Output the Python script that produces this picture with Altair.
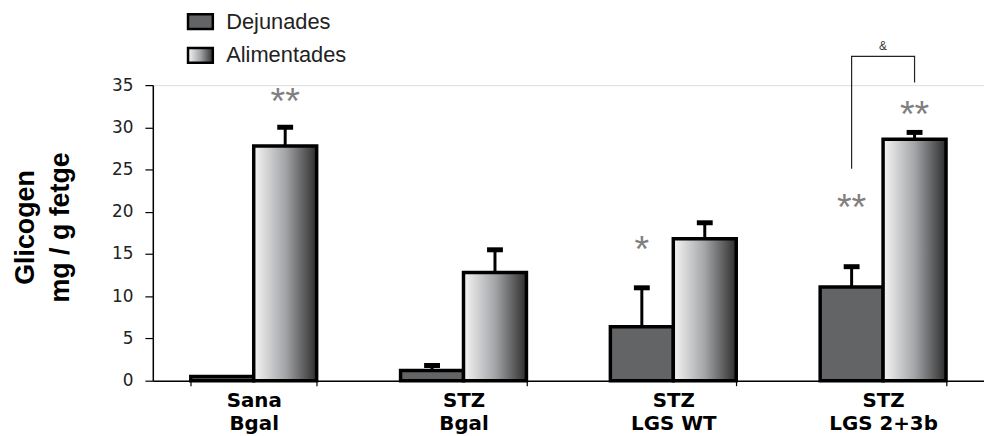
import altair as alt
import pandas as pd

# ---- data ----
cat_line1 = ["Sana", "STZ", "STZ", "STZ"]
cat_line2 = ["Bgal", "Bgal", "LGS WT", "LGS 2+3b"]
series = ["Dejunades", "Alimentades"]
fasted = [0.5, 1.2, 6.4, 11.1]
fasted_err = [0.0, 0.6, 4.6, 2.4]
fed = [27.8, 12.8, 16.8, 28.6]
fed_err = [2.2, 2.7, 1.9, 0.8]
y_ticks = [0, 5, 10, 15, 20, 25, 30, 35]

sig_cat = [0, 2, 3, 3]
sig_series = ["Alimentades", "Dejunades", "Dejunades", "Alimentades"]
sig_y = [33.7, 16.2, 21.1, 32.1]
sig_text = ["**", "*", "**", "**"]

bracket_cat = 3
bracket_series = ["Dejunades", "Dejunades", "Alimentades", "Alimentades"]
bracket_y = [25.1, 38.4, 38.4, 35.3]
bracket_label = "&"
bracket_label_y = 39.6

cats = [a + "\n" + b for a, b in zip(cat_line1, cat_line2)]

rows = []
for i, c in enumerate(cats):
    rows.append({"cat": c, "series": series[0], "value": fasted[i], "err": fasted_err[i]})
    rows.append({"cat": c, "series": series[1], "value": fed[i], "err": fed_err[i]})
bars_df = pd.DataFrame(rows)
bars_df["upper"] = bars_df["value"] + bars_df["err"]
err_df = bars_df[bars_df["err"] > 0]

sig_df = pd.DataFrame({
    "cat": [cats[i] for i in sig_cat],
    "series": sig_series,
    "y": sig_y,
    "label": sig_text,
})

br_df = pd.DataFrame({
    "cat": [cats[bracket_cat]] * len(bracket_y),
    "series": bracket_series,
    "y": bracket_y,
    "idx": list(range(len(bracket_y))),
})
br_lab_df = pd.DataFrame({"cat": [cats[bracket_cat]], "y": [bracket_label_y], "label": [bracket_label]})

FONT = "Liberation Sans"
WIDE = "DejaVu Sans"

x_enc = alt.X(
    "cat:N",
    sort=cats,
    scale=alt.Scale(domain=cats, paddingInner=0.4, paddingOuter=0.181),
    axis=alt.Axis(
        title=None,
        labelExpr="split(datum.label, '\\n')",
        labelAngle=0,
        labelFont=WIDE,
        labelFontSize=20,
        labelFontWeight="bold",
        labelColor="black",
        labelLineHeight=23,
        labelPadding=5,
        tickBand="extent",
        tickSize=5,
        tickColor="black",
        tickWidth=1.2,
        domainColor="black",
        domainWidth=1.5,
        grid=False,
    ),
)
xo_enc = alt.XOffset("series:N", sort=series,
                     scale=alt.Scale(domain=series, paddingInner=0, paddingOuter=0))
y_scale = alt.Scale(domain=[0, 35], nice=False, zero=True)
y_axis = alt.Axis(
    values=y_ticks,
    grid=False,
    domainColor="black",
    domainWidth=1.5,
    tickColor="black",
    tickSize=8,
    tickWidth=1.2,
    labelFont=WIDE,
    labelFontSize=17,
    labelColor="#222",
    labelPadding=12,
    title=["Glicogen", "mg / g fetge"],
    titleFont=FONT,
    titleFontSize=27,
    titleFontWeight="bold",
    titleColor="black",
    titleAngle=270,
    titleAlign="center",
    titleBaseline="bottom",
    titleX=-114,
    titleY=143,
    titleLineHeight=35,
)

gradient_expr = ("{gradient: 'linear', x1: 0, y1: 0, x2: 1, y2: 0, "
                 "stops: [{offset: 0, color: '#f6f6f6'}, {offset: 0.5, color: '#a4a5a8'}, "
                 "{offset: 1, color: '#2e2e2e'}]}")
color_scale = alt.Scale(domain=series, range=[{"expr": "'#636466'"}, {"expr": gradient_expr}])

bars = alt.Chart(bars_df).mark_bar(stroke="black", strokeWidth=3.5).encode(
    x=x_enc,
    xOffset=xo_enc,
    y=alt.Y("value:Q", scale=y_scale, axis=y_axis),
    color=alt.Color(
        "series:N",
        scale=color_scale,
        legend=alt.Legend(
            orient="none",
            legendX=34,
            legendY=-78,
            title=None,
            symbolType="M-1,-0.6H1V0.6H-1Z",
            symbolSize=625,
            symbolStrokeColor="black",
            symbolStrokeWidth=2.5,
            symbolOpacity=1,
            labelFont=FONT,
            labelFontSize=22,
            labelColor="#222",
            labelOffset=12,
            rowPadding=7,
            padding=0,
        ),
    ),
)

err_rule = alt.Chart(err_df).mark_rule(color="black", strokeWidth=3).encode(
    x=alt.X("cat:N", sort=cats),
    xOffset=alt.XOffset("series:N", sort=series),
    y="value:Q",
    y2="upper:Q",
)
err_cap = alt.Chart(err_df).mark_tick(color="black", thickness=5, size=16, opacity=1).encode(
    x=alt.X("cat:N", sort=cats),
    xOffset=alt.XOffset("series:N", sort=series),
    y="upper:Q",
)

sig = alt.Chart(sig_df).mark_text(font=FONT, fontSize=38, color="#808080",
                                  baseline="alphabetic", dy=18).encode(
    x=alt.X("cat:N", sort=cats),
    xOffset=alt.XOffset("series:N", sort=series),
    y="y:Q",
    text="label:N",
)

bracket = alt.Chart(br_df).mark_line(color="#222", strokeWidth=1.2, clip=False).encode(
    x=alt.X("cat:N", sort=cats),
    xOffset=alt.XOffset("series:N", sort=series),
    y="y:Q",
    order="idx:Q",
)
br_lab = alt.Chart(br_lab_df).mark_text(font=FONT, fontSize=12, color="#333").encode(
    x=alt.X("cat:N", sort=cats),
    y="y:Q",
    text="label:N",
)

chart = alt.layer(bars, err_rule, err_cap, sig, bracket, br_lab).properties(
    width=838,
    height=298,
    autosize=alt.AutoSizeParams(type="none"),
    padding={"left": 146, "top": 76, "right": 0, "bottom": 54},
).configure_view(stroke=None).configure(background="white")

chart.save("out.html", embed_options={"renderer": "svg", "actions": False})
